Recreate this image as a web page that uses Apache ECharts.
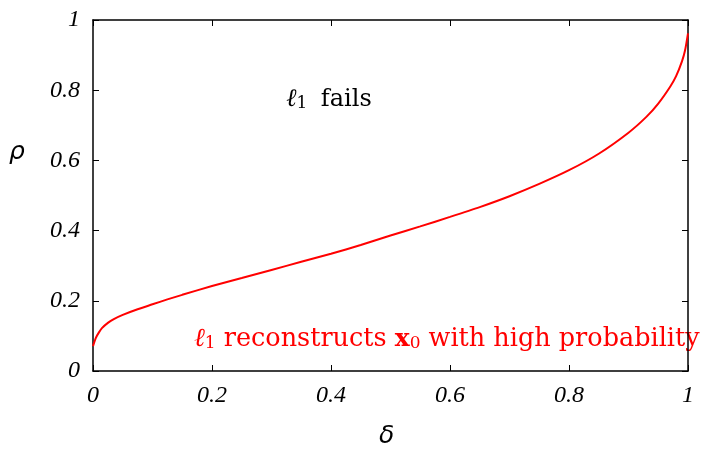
<!DOCTYPE html>
<html><head><meta charset="utf-8">
<script src="https://cdn.jsdelivr.net/npm/echarts@6/dist/echarts.min.js"></script>
<style>html,body{margin:0;padding:0;background:#fff}#c{width:705px;height:453px}</style>
</head><body><div id="c"></div>
<script>
const delta = [0, 0.005, 0.01, 0.015, 0.025, 0.035, 0.05, 0.075, 0.1, 0.125, 0.15, 0.2, 0.25, 0.3, 0.35, 0.4, 0.45, 0.5, 0.55, 0.6, 0.65, 0.7, 0.75, 0.8, 0.85, 0.9, 0.93, 0.95, 0.97, 0.98, 0.99, 0.995, 1.0];
const rho   = [0.071, 0.095, 0.110, 0.122, 0.137, 0.148, 0.160, 0.176, 0.190, 0.204, 0.217, 0.242, 0.265, 0.288, 0.311, 0.334, 0.359, 0.386, 0.412, 0.439, 0.467, 0.498, 0.533, 0.572, 0.619, 0.679, 0.724, 0.762, 0.81, 0.84, 0.883, 0.913, 0.962];
const xTicks = ['0', '0.2', '0.4', '0.6', '0.8', '1'];
const yTicks = ['0', '0.2', '0.4', '0.6', '0.8', '1'];

const chart = echarts.init(document.getElementById('c'), null, {renderer: 'canvas'});
const tickFont = {fontFamily: 'Liberation Serif', fontStyle: 'italic', fontSize: 24, color: '#000'};
const fmtX = (v, i) => xTicks[i];
const fmtY = (v, i) => yTicks[i];
const axisCommon = {
  type: 'value', min: 0, max: 1, interval: 0.2,
  axisLine: {show: true, onZero: false, lineStyle: {color: '#000', width: 1.5}},
  axisTick: {show: true, inside: true, length: 6, lineStyle: {color: '#000', width: 1}},
  splitLine: {show: false}
};
chart.setOption({
  animation: false,
  grid: {left: 93, right: 17, top: 20, bottom: 82},
  xAxis: [
    Object.assign({}, axisCommon, {position: 'bottom',
      axisLabel: Object.assign({margin: 13, formatter: fmtX}, tickFont)}),
    Object.assign({}, axisCommon, {position: 'top', axisLabel: {show: false}})
  ],
  yAxis: [
    Object.assign({}, axisCommon, {position: 'left',
      axisLabel: Object.assign({margin: 13, formatter: fmtY}, tickFont)}),
    Object.assign({}, axisCommon, {position: 'right', axisLabel: {show: false}})
  ],
  series: [{
    type: 'line', xAxisIndex: 0, yAxisIndex: 0,
    data: delta.map((d, i) => [d, rho[i]]),
    showSymbol: false, smooth: 0.25,
    lineStyle: {color: '#ff0000', width: 2}
  }],
  graphic: [
    {type: 'text', left: 9, top: 140, style: {text: 'ρ', font: 'italic 25px "DejaVu Sans"', fill: '#000'}},
    {type: 'text', left: 379, top: 424, style: {text: 'δ', font: 'italic 25px "DejaVu Sans"', fill: '#000'}},
    {type: 'text', left: 286, top: 87, style: {
      rich: {
        l: {fontFamily: 'DejaVu Serif', fontStyle: 'italic', fontSize: 25, fill: '#000'},
        s: {fontFamily: 'DejaVu Serif', fontSize: 17, fill: '#000', padding: [9, 6, 0, 0]},
        t: {fontFamily: 'DejaVu Serif', fontSize: 24, fill: '#000'}
      },
      text: '{l|ℓ}{s|1}{t| fails}'
    }},
    {type: 'text', left: 194, top: 326, style: {
      rich: {
        l: {fontFamily: 'DejaVu Serif', fontStyle: 'italic', fontSize: 26, fill: '#ff0000'},
        s: {fontFamily: 'DejaVu Serif', fontSize: 17, fill: '#ff0000', padding: [9, 0, 0, 0]},
        t: {fontFamily: 'DejaVu Serif', fontSize: 25.5, fill: '#ff0000'},
        b: {fontFamily: 'DejaVu Serif', fontWeight: 'bold', fontSize: 25, fill: '#ff0000'}
      },
      text: '{l|ℓ}{s|1}{t| reconstructs }{b|x}{s|0}{t| with high probability}'
    }}
  ]
});
</script></body></html>
